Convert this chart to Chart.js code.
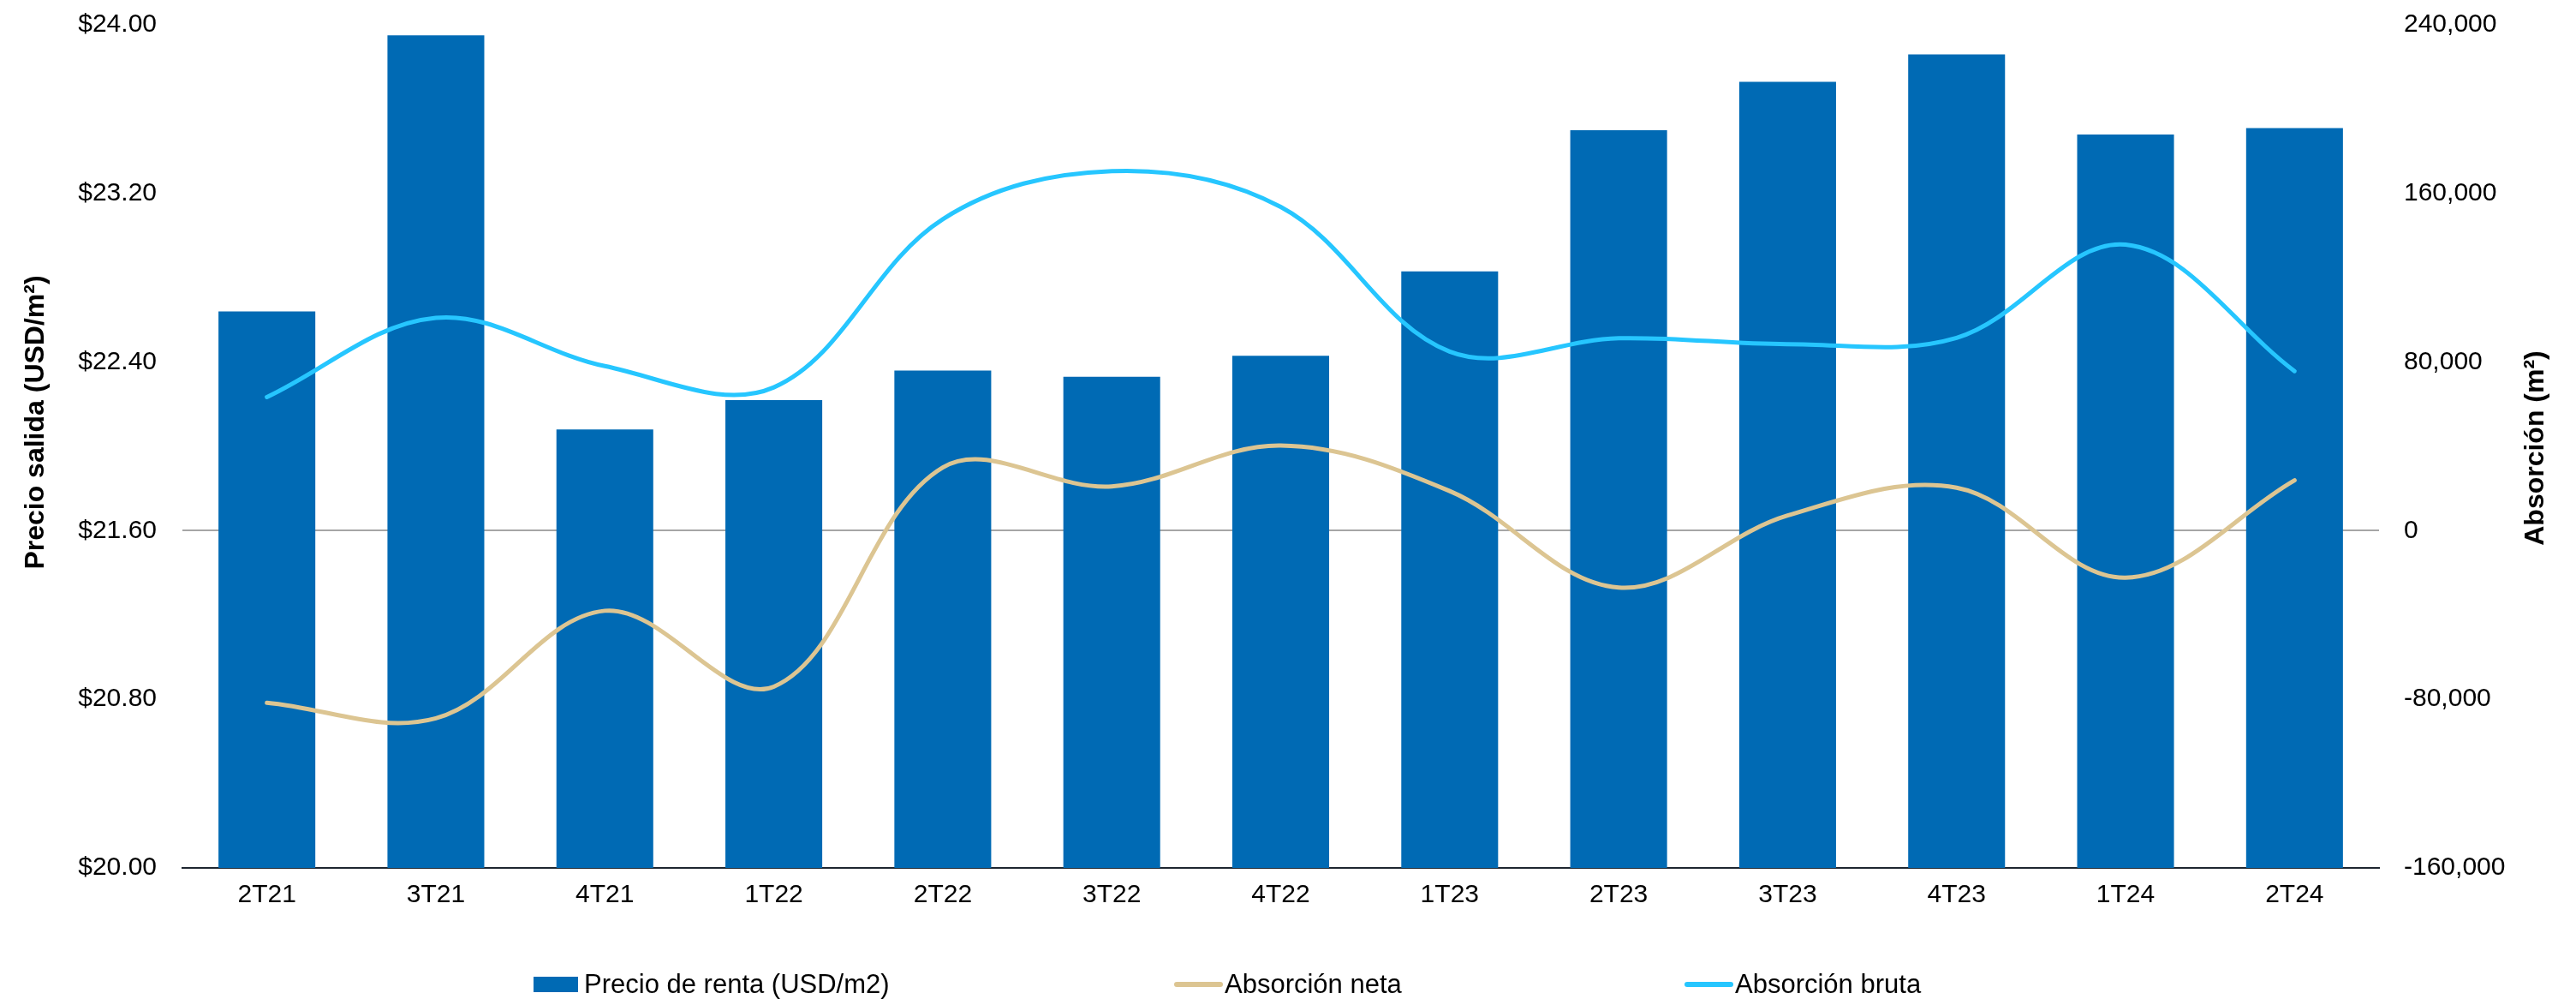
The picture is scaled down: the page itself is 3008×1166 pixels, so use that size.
<!DOCTYPE html>
<html>
<head>
<meta charset="utf-8">
<title>Precio de renta y absorción</title>
<script src="https://cdn.jsdelivr.net/npm/chart.js@4.4.1/dist/chart.umd.min.js"></script>
<style>
  html, body { margin: 0; padding: 0; background: #ffffff; }
  #wrap { width: 3008px; height: 1166px; position: relative; }
</style>
</head>
<body>
<div id="wrap"><canvas id="chart" width="3008" height="1166"></canvas></div>
<script>
// Quarters
const categories = ['2T21', '3T21', '4T21', '1T22', '2T22', '3T22', '4T22', '1T23', '2T23', '3T23', '4T23', '1T24', '2T24'];

// Asking rent (USD/m2) - left axis
const precioRenta = [22.64, 23.95, 22.08, 22.22, 22.36, 22.33, 22.43, 22.83, 23.50, 23.73, 23.86, 23.48, 23.51];

// Net and gross absorption (m2) - right axis
const absorcionNeta = [-81600, -89000, -38000, -74000, 30000, 21000, 40400, 18800, -27000, 7200, 20400, -22300, 23900];
const absorcionBruta = [63400, 101000, 78100, 68000, 147800, 170600, 153600, 85000, 91300, 88500, 91500, 135700, 75700];

// Axis ticks
const precioTicks = [20.00, 20.80, 21.60, 22.40, 23.20, 24.00];
const absorcionTicks = [-160000, -80000, 0, 80000, 160000, 240000];

// Labels
const seriesLabels = ['Precio de renta (USD/m2)', 'Absorción neta', 'Absorción bruta'];
const leftTitle = 'Precio salida (USD/m²)';
const rightTitle = 'Absorción (m²)';

const FONT = '"Liberation Sans", Arial, Helvetica, sans-serif';
const COLORS = { bar: '#006AB4', neta: '#DCC592', bruta: '#26C6FF' };

// Fixed-width value axes; tick padding must not push the plot area down
function fixVerticalAxis(width) {
  return s => {
    s.width = width;
    s.paddingTop = 0;
    s.paddingBottom = 0;
  };
}

// Rotated axis titles (both read bottom to top)
const axisTitlesPlugin = {
  id: 'axisTitles',
  afterDraw(chart) {
    const ctx = chart.ctx;
    ctx.save();
    ctx.font = 'bold 32px ' + FONT;
    ctx.fillStyle = '#000000';
    ctx.textAlign = 'center';
    ctx.textBaseline = 'middle';
    [[42, 493, leftTitle], [2961, 523, rightTitle]].forEach(([x, y, t]) => {
      ctx.save();
      ctx.translate(x, y);
      ctx.rotate(-Math.PI / 2);
      ctx.fillText(t, 0, 0);
      ctx.restore();
    });
    ctx.restore();
  }
};

// Legend row under the category axis
const legendPlugin = {
  id: 'bottomLegend',
  afterDraw(chart) {
    const ctx = chart.ctx;
    const starts = [623, 1371, 1967];
    const cy = 1149;
    ctx.save();
    ctx.font = '31px ' + FONT;
    ctx.fillStyle = '#000000';
    ctx.textBaseline = 'middle';
    ctx.textAlign = 'left';
    chart.data.datasets.forEach((ds, i) => {
      const x = starts[i];
      if (ds.type === 'line') {
        ctx.strokeStyle = ds.borderColor;
        ctx.lineWidth = 6;
        ctx.lineCap = 'round';
        ctx.beginPath();
        ctx.moveTo(x + 3, cy);
        ctx.lineTo(x + 54, cy);
        ctx.stroke();
      } else {
        ctx.fillStyle = ds.backgroundColor;
        ctx.fillRect(x, cy - 9, 52, 18);
      }
      ctx.fillStyle = '#000000';
      ctx.fillText(ds.label, x + 59, cy + 1);
    });
    ctx.restore();
  }
};

new Chart(document.getElementById('chart'), {
  type: 'bar',
  data: {
    labels: categories,
    datasets: [
      {
        type: 'bar',
        label: seriesLabels[0],
        data: precioRenta,
        yAxisID: 'y',
        backgroundColor: COLORS.bar,
        borderWidth: 0,
        categoryPercentage: 1.0,
        barPercentage: 0.573,
        order: 3
      },
      {
        type: 'line',
        label: seriesLabels[1],
        data: absorcionNeta,
        yAxisID: 'y1',
        borderColor: COLORS.neta,
        backgroundColor: COLORS.neta,
        borderWidth: 5,
        borderCapStyle: 'round',
        pointRadius: 0,
        pointHoverRadius: 0,
        tension: 0.36,
        fill: false,
        order: 2
      },
      {
        type: 'line',
        label: seriesLabels[2],
        data: absorcionBruta,
        yAxisID: 'y1',
        borderColor: COLORS.bruta,
        backgroundColor: COLORS.bruta,
        borderWidth: 5,
        borderCapStyle: 'round',
        pointRadius: 0,
        pointHoverRadius: 0,
        tension: 0.36,
        fill: false,
        order: 1
      }
    ]
  },
  options: {
    responsive: false,
    animation: false,
    devicePixelRatio: 1,
    layout: { padding: { top: 29, left: 0, right: 0, bottom: 0 } },
    plugins: {
      legend: { display: false },
      tooltip: { enabled: false }
    },
    scales: {
      x: {
        offset: true,
        grid: { display: false, drawTicks: false },
        border: { display: true, color: '#1E2630', width: 2 },
        ticks: { color: '#000000', font: { family: FONT, size: 30 }, padding: 14, maxRotation: 0, autoSkip: false },
        afterFit: s => { s.height = 153; }
      },
      y: {
        position: 'left',
        min: 20,
        max: 24,
        grid: { display: false, drawTicks: false },
        border: { display: false },
        ticks: {
          color: '#000000',
          font: { family: FONT, size: 30 },
          padding: 30,
          callback: v => '$' + Number(v).toFixed(2)
        },
        afterBuildTicks: s => { s.ticks = precioTicks.map(v => ({ value: v })); },
        afterFit: fixVerticalAxis(213)
      },
      y1: {
        position: 'right',
        min: -160000,
        max: 240000,
        grid: {
          display: true,
          drawTicks: false,
          color: ctx => (ctx.tick && ctx.tick.value === 0) ? '#A6A6A6' : 'rgba(0,0,0,0)',
          lineWidth: 2
        },
        border: { display: false },
        ticks: {
          color: '#000000',
          font: { family: FONT, size: 30 },
          padding: 29,
          callback: v => Number(v).toLocaleString('en-US')
        },
        afterBuildTicks: s => { s.ticks = absorcionTicks.map(v => ({ value: v })); },
        afterFit: fixVerticalAxis(230)
      }
    }
  },
  plugins: [axisTitlesPlugin, legendPlugin]
});
</script>
</body>
</html>
